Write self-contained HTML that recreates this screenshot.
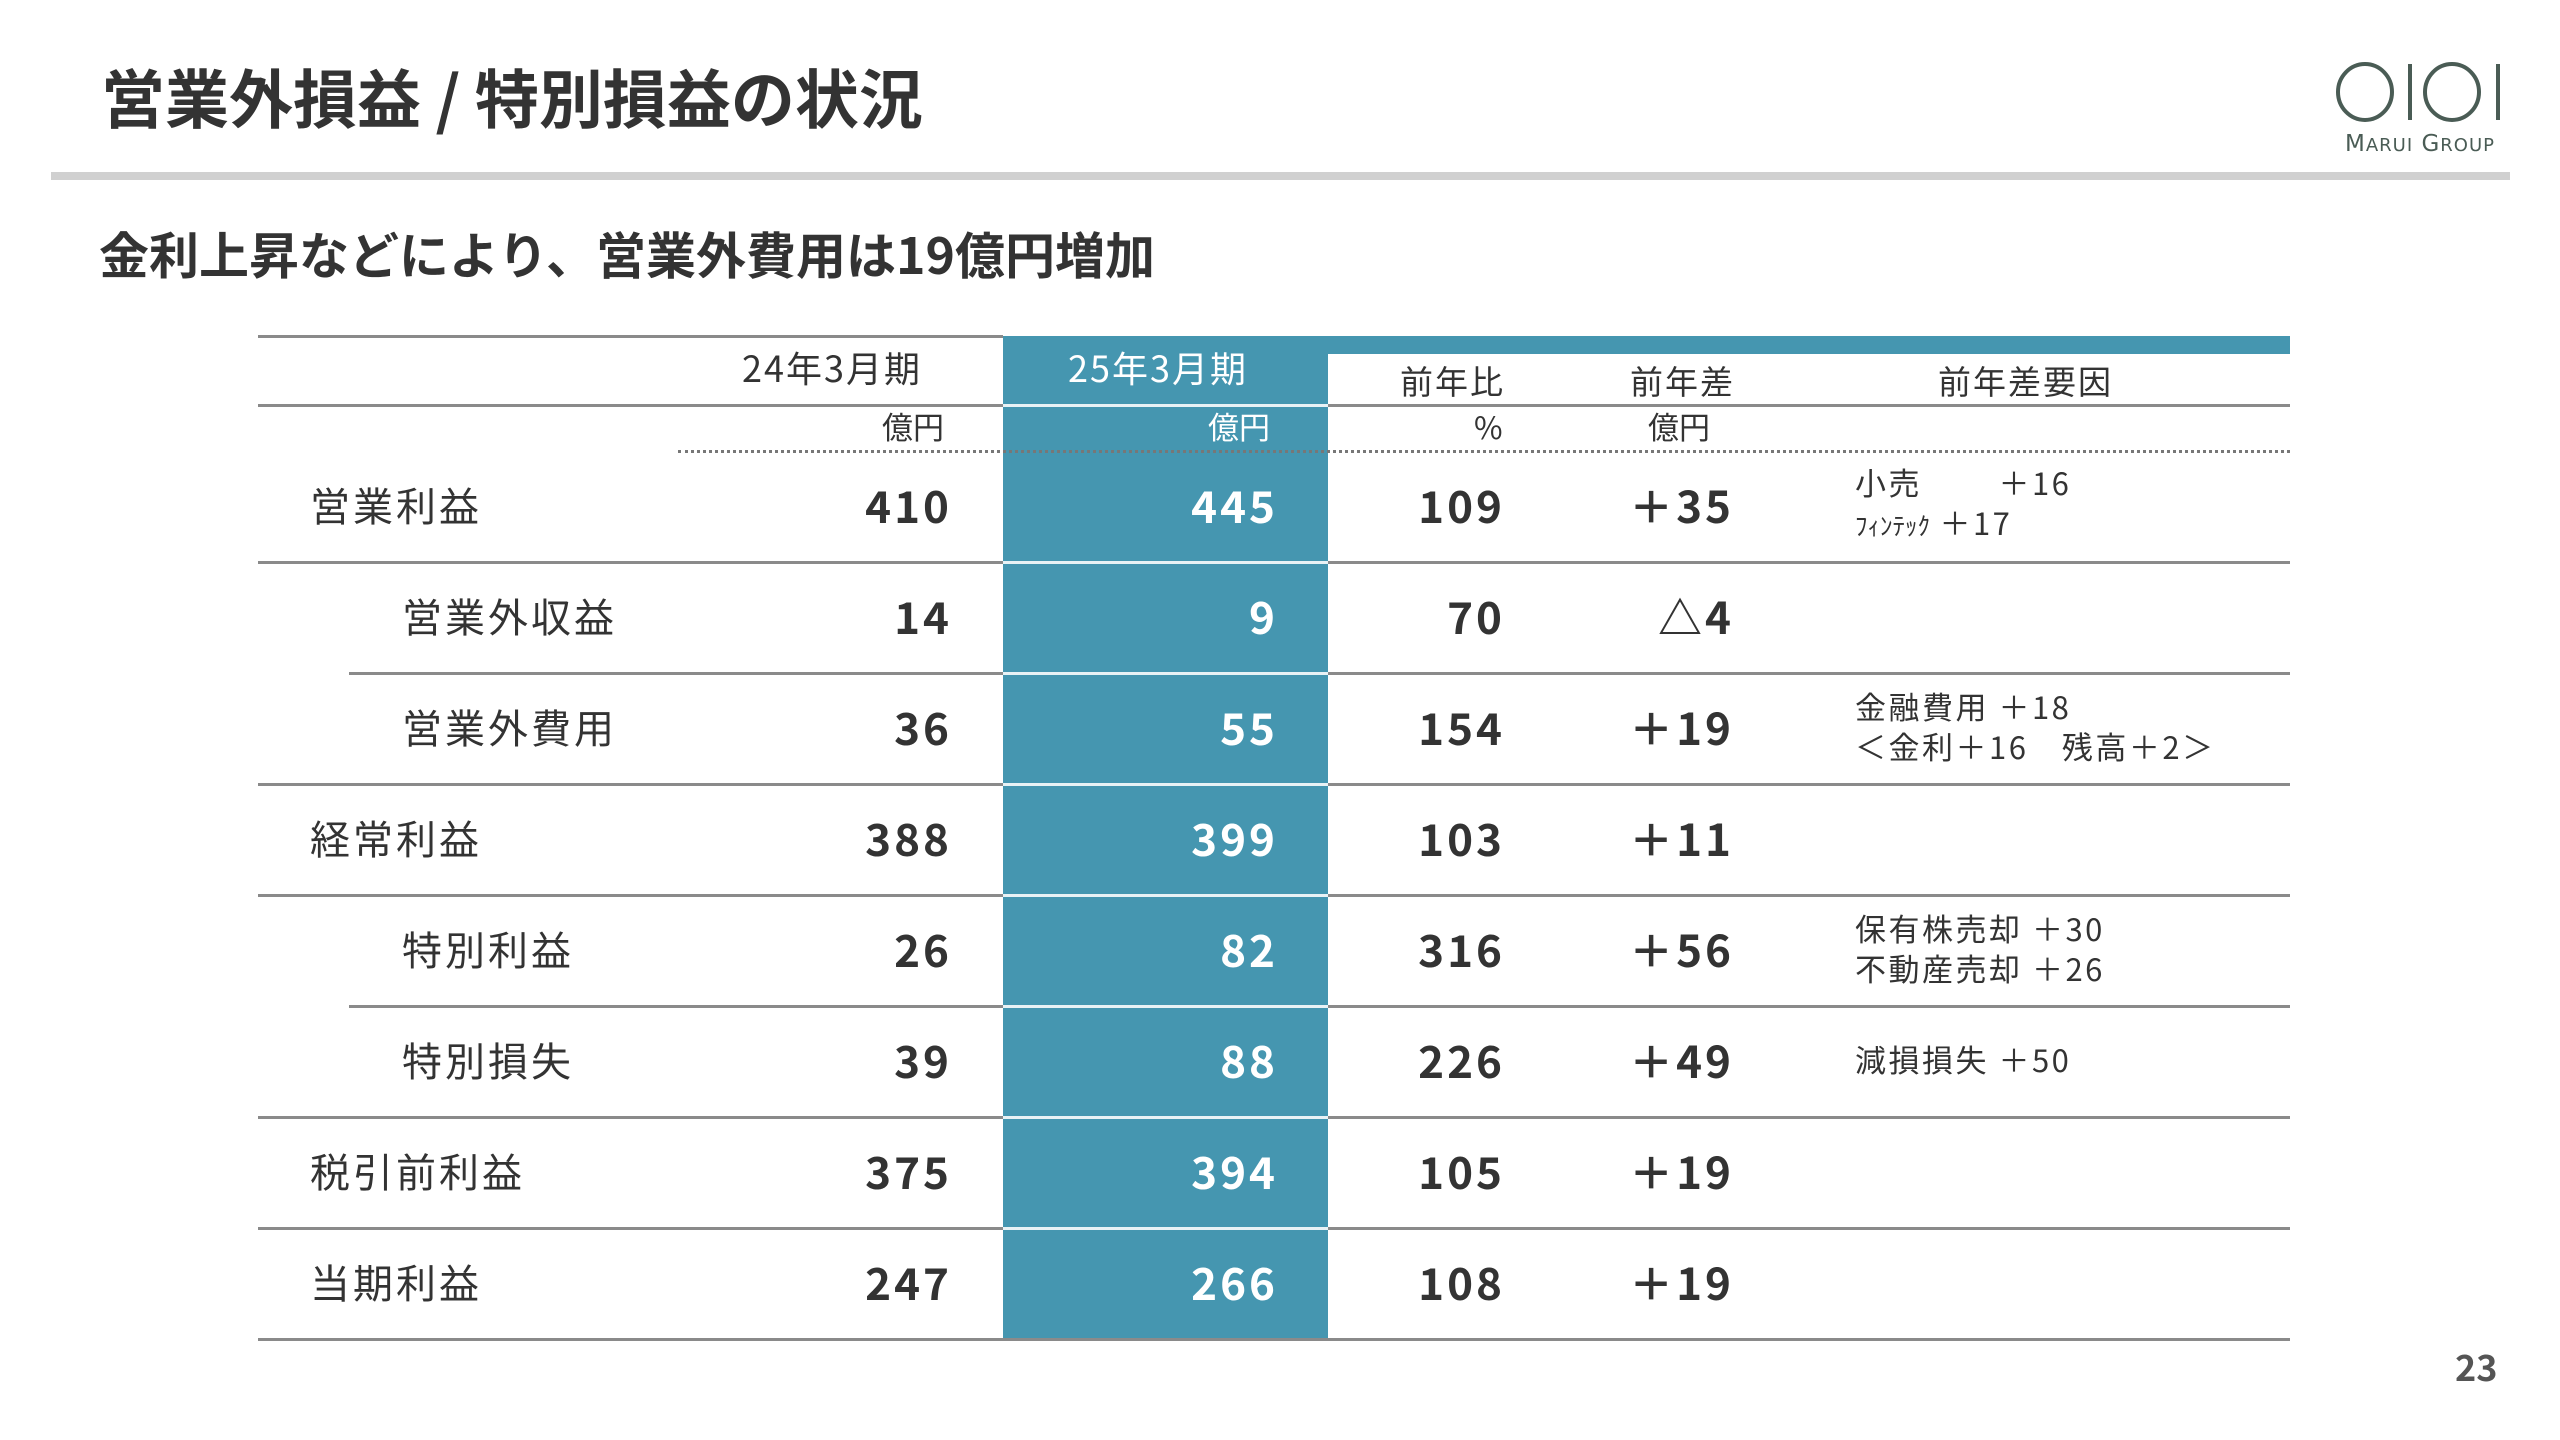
<!DOCTYPE html>
<html><head><meta charset="utf-8"><style>
*{margin:0;padding:0;box-sizing:border-box}
body{width:2560px;height:1440px;background:#fff;position:relative;overflow:hidden;font-family:"Noto Sans CJK JP","Liberation Sans",sans-serif;color:#333}
.a{position:absolute}
.t{position:absolute;left:101px;top:56px;font-size:64px;font-weight:bold;color:#333;line-height:80px}
.bar{position:absolute;left:51px;top:172px;width:2459px;height:8px;background:#d0d0d0}
.sub{position:absolute;left:99px;top:220px;font-size:50px;font-weight:bold;line-height:66px}
.blue{position:absolute;left:1003px;top:336px;width:325px;height:1004px;background:#4596b0}
.band{position:absolute;left:1328px;top:336px;width:962px;height:18px;background:#4596b0}
.hl{position:absolute;height:3px;background:#8a8a8a}
.hlw{position:absolute;left:1003px;width:325px;height:3px;background:#e8f2f5}
.dot{position:absolute;left:678px;top:450px;width:1612px;border-top:3px dotted #777}
.r{position:absolute;height:111px;display:flex;align-items:center;margin-top:-3px}
.lab{font-size:40px;letter-spacing:3px}
.num{font-size:44px;font-weight:bold;justify-content:flex-end;letter-spacing:3px}
.w{color:#fff}
.f{font-size:31px;line-height:40px;display:block;letter-spacing:2.5px}
.h{position:absolute;font-size:36px;line-height:44px;letter-spacing:2px}
.u{position:absolute;font-size:31px;line-height:36px}
</style></head><body>
<div class="t">営業外損益 / 特別損益の状況</div>
<div class="bar"></div>
<svg class="a" style="left:2330px;top:58px" width="180" height="100">
<g fill="none" stroke="#4a5c55" stroke-width="4">
<ellipse cx="35" cy="34" rx="27" ry="28"/>
<line x1="80" y1="6" x2="80" y2="62"/>
<ellipse cx="122" cy="34" rx="27" ry="28"/>
<line x1="168" y1="6" x2="168" y2="62"/>
</g>
<text x="90" y="93" text-anchor="middle" font-size="23" fill="#4a5c55" font-family="DejaVu Sans,sans-serif" letter-spacing="1">M<tspan font-size="18">ARUI</tspan> G<tspan font-size="18">ROUP</tspan></text>
</svg>
<div class="sub">金利上昇などにより、営業外費用は19億円増加</div>

<div class="blue"></div>
<div class="band"></div>
<div class="hl" style="left:258px;top:335px;width:745px"></div>
<div class="hl" style="left:258px;top:404px;width:2032px"></div>
<div class="hlw" style="top:404px"></div>
<div class="dot"></div>

<div class="h" style="left:742px;top:345px">24年3月期</div>
<div class="h w" style="left:1068px;top:345px;color:#fff">25年3月期</div>
<div class="h" style="left:1400px;top:358px;font-size:33px">前年比</div>
<div class="h" style="left:1630px;top:358px;font-size:33px">前年差</div>
<div class="h" style="left:1938px;top:358px;font-size:33px">前年差要因</div>
<div class="u" style="left:882px;top:408px">億円</div>
<div class="u" style="left:1208px;top:408px;color:#fff">億円</div>
<div class="u" style="left:1474px;top:408px">%</div>
<div class="u" style="left:1648px;top:408px">億円</div>

<div class="hl" style="left:258px;top:561px;width:2032px"></div>
<div class="hl" style="left:349px;top:672px;width:1941px"></div>
<div class="hl" style="left:258px;top:783px;width:2032px"></div>
<div class="hl" style="left:258px;top:894px;width:2032px"></div>
<div class="hl" style="left:349px;top:1005px;width:1941px"></div>
<div class="hl" style="left:258px;top:1116px;width:2032px"></div>
<div class="hl" style="left:258px;top:1227px;width:2032px"></div>
<div class="hl" style="left:258px;top:1338px;width:2032px"></div>
<div class="hlw" style="top:561px"></div><div class="hlw" style="top:672px"></div><div class="hlw" style="top:783px"></div><div class="hlw" style="top:894px"></div><div class="hlw" style="top:1005px"></div><div class="hlw" style="top:1116px"></div><div class="hlw" style="top:1227px"></div>

<div class="r lab" style="left:310px;top:451px">営業利益</div>
<div class="r num" style="left:700px;width:252px;top:451px">410</div>
<div class="r num w" style="left:1030px;width:248px;top:451px">445</div>
<div class="r num" style="left:1300px;width:205px;top:451px">109</div>
<div class="r num" style="left:1530px;width:204px;top:451px">＋35</div>
<div class="r" style="left:1855px;top:451px"><div><span class="f">小売　　 ＋16</span><span class="f"><span style="font-size:25px;letter-spacing:0">ﾌｨﾝﾃｯｸ</span> ＋17</span></div></div>

<div class="r lab" style="left:402px;top:562px">営業外収益</div>
<div class="r num" style="left:700px;width:252px;top:562px">14</div>
<div class="r num w" style="left:1030px;width:248px;top:562px">9</div>
<div class="r num" style="left:1300px;width:205px;top:562px">70</div>
<div class="r num" style="left:1530px;width:204px;top:562px">△4</div>

<div class="r lab" style="left:402px;top:673px">営業外費用</div>
<div class="r num" style="left:700px;width:252px;top:673px">36</div>
<div class="r num w" style="left:1030px;width:248px;top:673px">55</div>
<div class="r num" style="left:1300px;width:205px;top:673px">154</div>
<div class="r num" style="left:1530px;width:204px;top:673px">＋19</div>
<div class="r" style="left:1855px;top:673px"><div><span class="f">金融費用 ＋18</span><span class="f">＜金利＋16　残高＋2＞</span></div></div>

<div class="r lab" style="left:310px;top:784px">経常利益</div>
<div class="r num" style="left:700px;width:252px;top:784px">388</div>
<div class="r num w" style="left:1030px;width:248px;top:784px">399</div>
<div class="r num" style="left:1300px;width:205px;top:784px">103</div>
<div class="r num" style="left:1530px;width:204px;top:784px">＋11</div>

<div class="r lab" style="left:402px;top:895px">特別利益</div>
<div class="r num" style="left:700px;width:252px;top:895px">26</div>
<div class="r num w" style="left:1030px;width:248px;top:895px">82</div>
<div class="r num" style="left:1300px;width:205px;top:895px">316</div>
<div class="r num" style="left:1530px;width:204px;top:895px">＋56</div>
<div class="r" style="left:1855px;top:895px"><div><span class="f">保有株売却 ＋30</span><span class="f">不動産売却 ＋26</span></div></div>

<div class="r lab" style="left:402px;top:1006px">特別損失</div>
<div class="r num" style="left:700px;width:252px;top:1006px">39</div>
<div class="r num w" style="left:1030px;width:248px;top:1006px">88</div>
<div class="r num" style="left:1300px;width:205px;top:1006px">226</div>
<div class="r num" style="left:1530px;width:204px;top:1006px">＋49</div>
<div class="r" style="left:1855px;top:1006px"><span class="f">減損損失 ＋50</span></div>

<div class="r lab" style="left:310px;top:1117px">税引前利益</div>
<div class="r num" style="left:700px;width:252px;top:1117px">375</div>
<div class="r num w" style="left:1030px;width:248px;top:1117px">394</div>
<div class="r num" style="left:1300px;width:205px;top:1117px">105</div>
<div class="r num" style="left:1530px;width:204px;top:1117px">＋19</div>

<div class="r lab" style="left:310px;top:1228px">当期利益</div>
<div class="r num" style="left:700px;width:252px;top:1228px">247</div>
<div class="r num w" style="left:1030px;width:248px;top:1228px">266</div>
<div class="r num" style="left:1300px;width:205px;top:1228px">108</div>
<div class="r num" style="left:1530px;width:204px;top:1228px">＋19</div>

<div class="a" style="left:2455px;top:1340px;font-size:36px;font-weight:bold;color:#555">23</div>
</body></html>
